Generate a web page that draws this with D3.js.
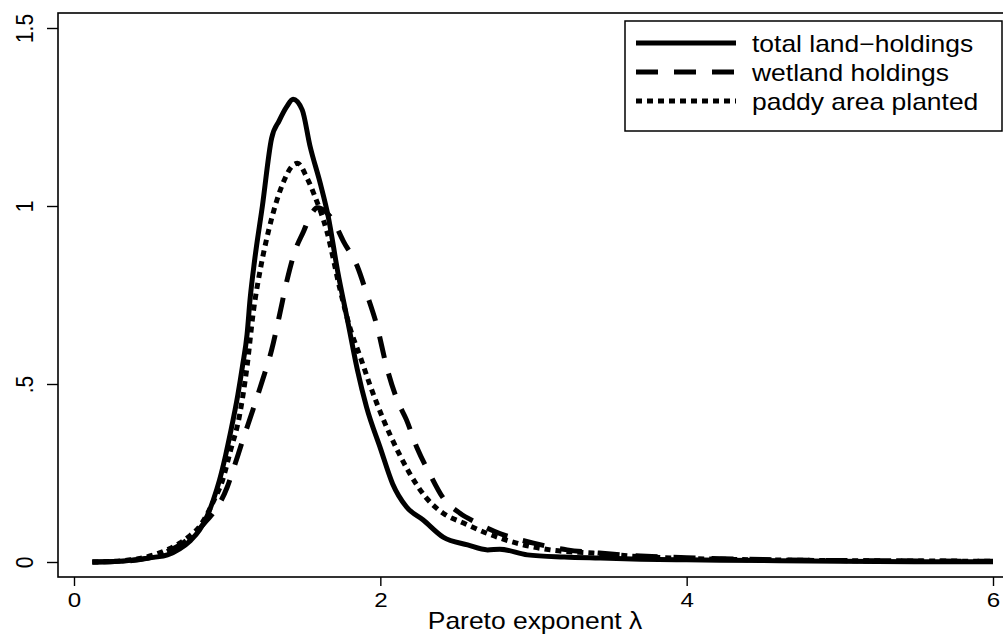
<!DOCTYPE html>
<html>
<head>
<meta charset="utf-8">
<script src="https://cdn.jsdelivr.net/npm/d3@7"></script>
<style>
  html, body { margin: 0; padding: 0; background: #fff; }
  svg { display: block; }
  text { font-family: "Liberation Sans", Arial, Helvetica, sans-serif; fill: #000; }
</style>
</head>
<body>
<svg id="chart" width="1003" height="641"></svg>
<script>
// Kernel density estimates of the Pareto exponent, one series per land measure
const seriesNames = ["total land\u2212holdings", "wetland holdings", "paddy area planted"];

const totalX = [0.12, 0.30, 0.43, 0.52, 0.61, 0.69, 0.76, 0.82, 0.87, 0.91, 0.95, 0.99, 1.02, 1.07, 1.10, 1.13, 1.15, 1.18, 1.23, 1.29, 1.34, 1.39, 1.43, 1.49, 1.54, 1.61, 1.66, 1.72, 1.79, 1.85, 1.91, 2.00, 2.08, 2.17, 2.28, 2.41, 2.57, 2.70, 2.78, 2.96, 3.20, 3.43, 3.70, 4.00, 4.50, 5.00, 5.50, 6.00];
const totalY = [0.000, 0.002, 0.008, 0.013, 0.020, 0.037, 0.060, 0.090, 0.130, 0.175, 0.230, 0.300, 0.360, 0.470, 0.550, 0.640, 0.740, 0.850, 1.000, 1.190, 1.240, 1.280, 1.300, 1.270, 1.170, 1.060, 0.970, 0.820, 0.670, 0.540, 0.435, 0.320, 0.220, 0.155, 0.118, 0.070, 0.048, 0.034, 0.036, 0.020, 0.014, 0.011, 0.008, 0.006, 0.004, 0.002, 0.001, 0.001];

const wetX = [0.12, 0.30, 0.45, 0.60, 0.70, 0.80, 0.87, 0.93, 1.00, 1.04, 1.10, 1.17, 1.23, 1.29, 1.34, 1.39, 1.44, 1.50, 1.54, 1.59, 1.64, 1.69, 1.76, 1.85, 1.91, 1.98, 2.04, 2.11, 2.17, 2.24, 2.32, 2.41, 2.52, 2.63, 2.78, 3.00, 3.22, 3.43, 3.70, 4.00, 4.50, 5.00, 5.50, 6.00];
const wetY = [0.000, 0.002, 0.008, 0.028, 0.050, 0.085, 0.118, 0.150, 0.210, 0.260, 0.340, 0.430, 0.510, 0.595, 0.690, 0.790, 0.870, 0.930, 0.970, 0.995, 0.985, 0.960, 0.900, 0.830, 0.755, 0.660, 0.550, 0.455, 0.400, 0.320, 0.250, 0.180, 0.137, 0.110, 0.080, 0.053, 0.034, 0.025, 0.017, 0.012, 0.007, 0.004, 0.003, 0.002];

const paddyX = [0.12, 0.30, 0.43, 0.52, 0.61, 0.69, 0.76, 0.82, 0.87, 0.91, 0.97, 1.02, 1.08, 1.13, 1.17, 1.22, 1.27, 1.32, 1.37, 1.42, 1.46, 1.52, 1.57, 1.65, 1.74, 1.80, 1.87, 1.93, 2.02, 2.11, 2.19, 2.30, 2.41, 2.54, 2.70, 2.89, 3.11, 3.39, 3.70, 4.00, 4.50, 5.00, 5.50, 6.00];
const paddyY = [0.000, 0.003, 0.010, 0.020, 0.035, 0.053, 0.075, 0.100, 0.135, 0.170, 0.230, 0.310, 0.410, 0.550, 0.700, 0.830, 0.930, 1.010, 1.070, 1.110, 1.120, 1.080, 1.030, 0.930, 0.760, 0.660, 0.575, 0.500, 0.400, 0.315, 0.250, 0.180, 0.137, 0.110, 0.080, 0.053, 0.034, 0.025, 0.015, 0.010, 0.006, 0.004, 0.003, 0.002];

const xTicks = [0, 2, 4, 6];
const yTicks = [0, 0.5, 1, 1.5];
const yTickLabels = ["0", ".5", "1", "1.5"];
const xTitle = "Pareto exponent \u03bb";

// horizontal stretch applied to all text
const SX = 1.15;

const svg = d3.select("#chart");

const x = d3.scaleLinear().domain([0, 6]).range([74, 993]);
const y = d3.scaleLinear().domain([0, 1.5]).range([562, 28]);

const plotLeft = 58, plotTop = 13, plotBottom = 577, plotRight = 1015;

// plot frame
svg.append("rect")
  .attr("x", plotLeft).attr("y", plotTop)
  .attr("width", plotRight - plotLeft).attr("height", plotBottom - plotTop)
  .attr("fill", "none").attr("stroke", "#000").attr("stroke-width", 1.6);

// x axis
const gx = svg.append("g")
  .attr("transform", `translate(0,${plotBottom})`)
  .call(d3.axisBottom(x).tickValues(xTicks).tickFormat(d3.format("d")).tickSize(9).tickSizeOuter(0));
gx.select(".domain").remove();
gx.selectAll(".tick line").attr("stroke", "#000").attr("stroke-width", 1.4);
gx.selectAll(".tick text")
  .attr("y", 30).attr("dy", 0)
  .attr("font-size", 21)
  .attr("transform", `scale(${SX},1)`);

// y axis with rotated labels
const gy = svg.append("g")
  .attr("transform", `translate(${plotLeft},0)`)
  .call(d3.axisLeft(y).tickValues(yTicks).tickFormat((d, i) => yTickLabels[i]).tickSize(11).tickSizeOuter(0));
gy.select(".domain").remove();
gy.selectAll(".tick line").attr("stroke", "#000").attr("stroke-width", 1.4);
gy.selectAll(".tick text")
  .attr("x", 0).attr("y", -25 / SX).attr("dy", 0)
  .attr("text-anchor", "middle")
  .attr("font-size", 21)
  .attr("transform", `scale(${SX},1) rotate(-90)`);

// axis title
svg.append("text")
  .attr("transform", `translate(535,629) scale(${SX},1)`)
  .attr("text-anchor", "middle")
  .attr("font-size", 23)
  .text(xTitle);

// density curves
const styles = [
  { dash: null },
  { dash: "22,16" },
  { dash: "6,5" }
];
const series = [
  d3.zip(totalX, totalY),
  d3.zip(wetX, wetY),
  d3.zip(paddyX, paddyY)
];

const line = d3.line()
  .x(d => x(d[0]))
  .y(d => y(d[1]))
  .curve(d3.curveMonotoneX);

series.forEach((pts, i) => {
  svg.append("path")
    .datum(pts)
    .attr("d", line)
    .attr("fill", "none")
    .attr("stroke", "#000")
    .attr("stroke-width", 5)
    .attr("stroke-linejoin", "round")
    .attr("stroke-dasharray", styles[i].dash);
});

// legend
const lg = svg.append("g");
lg.append("rect")
  .attr("x", 625).attr("y", 21).attr("width", 377).attr("height", 110)
  .attr("fill", "#fff").attr("stroke", "#000").attr("stroke-width", 1.5);
const rowY = [43, 72, 101];
seriesNames.forEach((name, i) => {
  lg.append("line")
    .attr("x1", 636).attr("x2", 736)
    .attr("y1", rowY[i]).attr("y2", rowY[i])
    .attr("stroke", "#000").attr("stroke-width", 5)
    .attr("stroke-dasharray", styles[i].dash);
  lg.append("text")
    .attr("transform", `translate(752,${rowY[i] + 9}) scale(${SX},1)`)
    .attr("font-size", 23)
    .text(name);
});
</script>
</body>
</html>
